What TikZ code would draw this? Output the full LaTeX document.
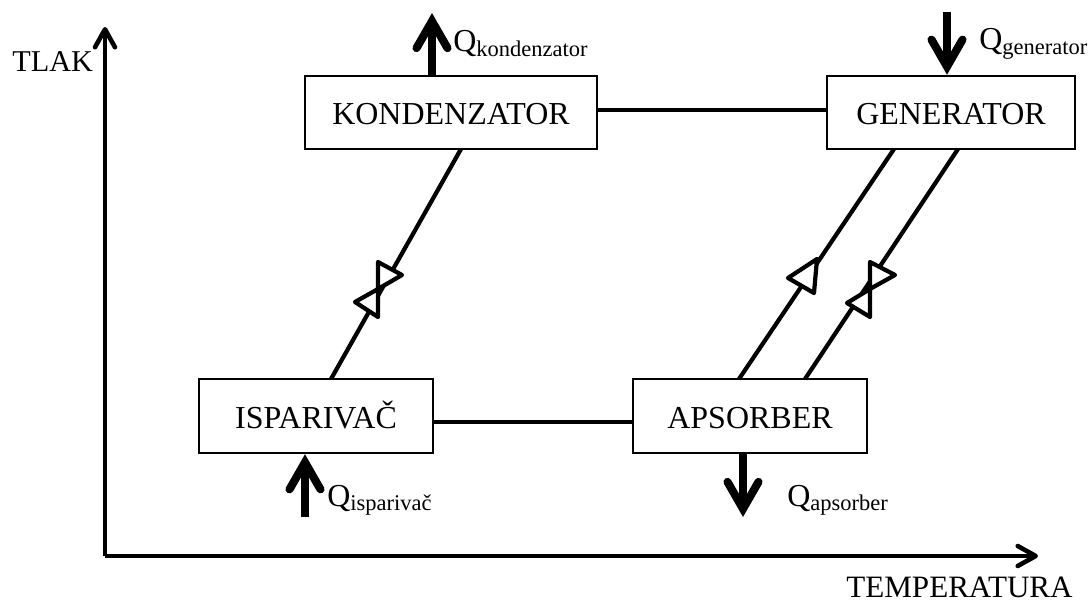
\documentclass[tikz,border=0pt]{standalone}
\usepackage{fontspec}
\setmainfont{Liberation Serif}
\usetikzlibrary{arrows.meta}
\tikzset{
  unit/.style={draw=black, line width=1.4pt, inner sep=0pt, text height=14.2pt, text depth=0pt, font=\fontsize{18.2}{20}\selectfont},
  link/.style={line width=2.4pt},
  axis/.style={line width=2.4pt, -{Straight Barb[round,length=3.6mm,width=4mm,line width=2.6pt]}},
  heat/.style={line width=4.6pt, -{Straight Barb[line cap=round,line join=miter,length=5.4mm,width=6.2mm,line width=4.6pt]}},
  lbl/.style={inner sep=0pt, anchor=base west, font=\fontsize{18.2}{20}\selectfont},
  valve/.style={draw=black, line width=2.4pt, line join=round, fill=white}
}
\newcommand{\lowtext}[1]{\raisebox{-2.3pt}{\fontsize{12.8}{14}\selectfont #1}}
\begin{document}
\begin{tikzpicture}[x=0.02cm,y=-0.02cm]
  \useasboundingbox (0,0) rectangle (1089,604);
  % jedinice
  \node[unit, minimum width=292*0.02cm, minimum height=73*0.02cm] (kond) at (451,112.5) {KONDENZATOR};
  \node[unit, minimum width=248*0.02cm, minimum height=73*0.02cm] (gen) at (951,112.5) {GENERATOR};
  \node[unit, minimum width=234*0.02cm, minimum height=74*0.02cm] (isp) at (316,416) {ISPARIVAČ};
  \node[unit, minimum width=234*0.02cm, minimum height=74*0.02cm] (aps) at (750,416) {APSORBER};
  % veze
  \draw[link] ([yshift=0.05cm]kond.east) -- ([yshift=0.05cm]gen.west);
  \draw[link] ([yshift=-0.12cm]isp.east) -- ([yshift=-0.12cm]aps.west);
  \coordinate (k1) at (461,149);
  \coordinate (i1) at (331,379);
  \coordinate (g1) at (894,149);
  \coordinate (a1) at (739,379);
  \coordinate (g2) at (958,149);
  \coordinate (a2) at (805,379);
  \draw[link] (k1) -- (i1);
  \draw[link] (g1) -- (a1);
  \draw[link] (g2) -- (a2);
  % ventili
  \draw[valve] (378,262) -- (402,275) -- (378,289) -- cycle;
  \draw[valve] (378,289) -- (355,302) -- (378,317) -- cycle;
  \draw[valve] (817,259) -- (788,278) -- (814,293) -- cycle;
  \draw[valve] (870,262) -- (895,275) -- (870,289) -- cycle;
  \draw[valve] (870,289) -- (847,303) -- (870,317) -- cycle;
  % osi
  \coordinate (o) at (105,556);
  \coordinate (yend) at (105,27);
  \coordinate (xend) at (1038,556);
  \draw[axis] (o) -- (yend);
  \draw[axis] (o) -- (xend);
  \node[lbl, font=\fontsize{17.2}{20}\selectfont] (tlak) at (12,72) {TLAK};
  \node[lbl, anchor=base east, font=\fontsize{17.7}{20}\selectfont] (temp) at (1073,597) {TEMPERATURA};
  % toplina
  \coordinate (qk) at (432,13);
  \coordinate (gt) at (947,12);
  \coordinate (qi) at (305,517);
  \coordinate (qa) at (743,517);
  \draw[heat] (kond.north -| qk) -- (qk);
  \draw[heat] (gt) -- (gen.north -| gt);
  \draw[heat] (qi) -- (isp.south -| qi);
  \draw[heat] (aps.south -| qa) -- (qa);
  \node[lbl] (qkond) at (453,52) {Q\lowtext{kondenzator}};
  \node[lbl] (qgen) at (979,50) {Q\lowtext{generator}};
  \node[lbl] (qisp) at (327,506) {Q\lowtext{isparivač}};
  \node[lbl] (qaps) at (787,506) {Q\lowtext{apsorber}};
\end{tikzpicture}
\end{document}
